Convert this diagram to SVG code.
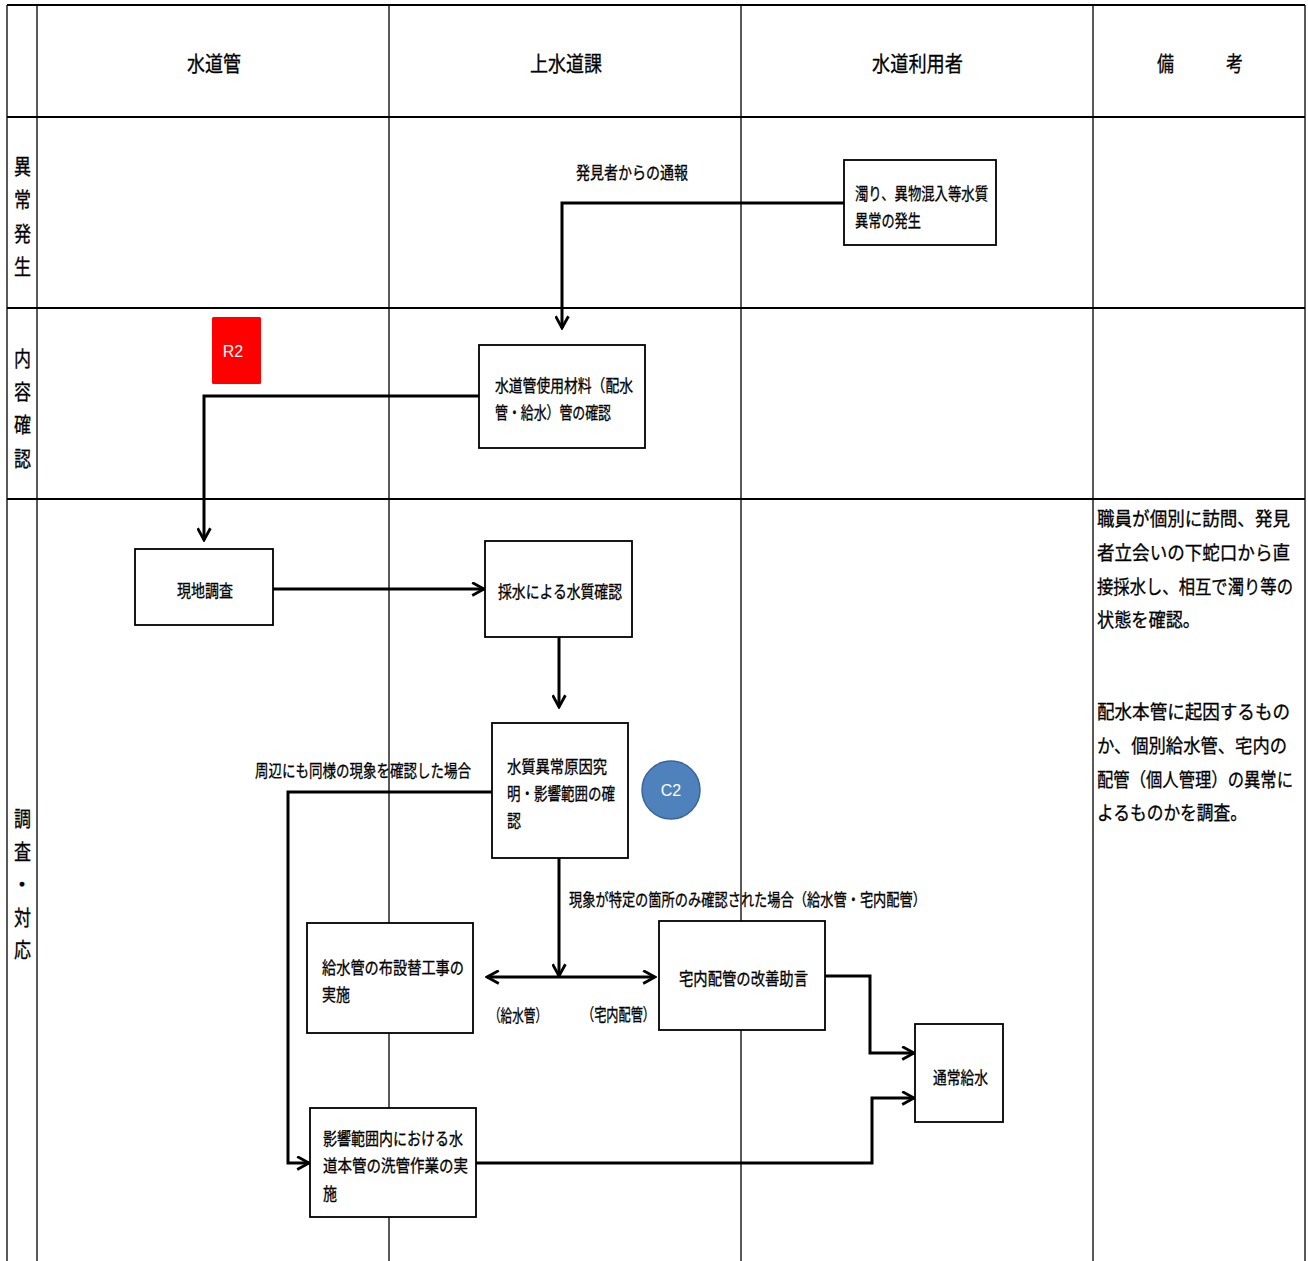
<svg xmlns="http://www.w3.org/2000/svg" width="1308" height="1261" viewBox="0 0 1308 1261">
<style>
  .grid-h { stroke: #000; stroke-width: 2; }
  .grid-v { stroke: #000; stroke-width: 1.3; }
  .box { fill: #fff; stroke: #000; stroke-width: 1.8; }
  .conn { fill: none; stroke: #000; stroke-width: 3; }
  text { font-family: "Noto Sans CJK JP", "Noto Sans CJK SC", sans-serif; fill: #000; stroke: #000; stroke-width: 0.3; dominant-baseline: central; }
  .hd { font-size: 21px; }
  .rl { font-size: 21px; }
  .nd { font-size: 17px; }
  .lb { font-size: 17px; }
  .rm { font-size: 19px; }
  .tag { font-family: "Liberation Sans", Arial, sans-serif; font-size: 16px; fill: #fff; stroke: none; text-anchor: middle; }
</style>
<defs>
  <marker id="arrow" markerUnits="userSpaceOnUse" viewBox="0 0 14 14" refX="12" refY="7" markerWidth="15" markerHeight="15" orient="auto-start-reverse">
    <path d="M1,1 L12,7 L1,13" fill="none" stroke="#000" stroke-width="2.6"/>
  </marker>
</defs>
<rect x="0" y="0" width="1308" height="1261" fill="#fff"/>

<g id="grid">
  <line class="grid-h" x1="7" y1="5" x2="1305" y2="5"/>
  <line class="grid-h" x1="7" y1="117" x2="1305" y2="117"/>
  <line class="grid-h" x1="7" y1="308" x2="1305" y2="308"/>
  <line class="grid-h" x1="7" y1="499" x2="1305" y2="499"/>
  <line class="grid-v" x1="7" y1="5" x2="7" y2="1261"/>
  <line class="grid-v" x1="37" y1="5" x2="37" y2="1261"/>
  <line class="grid-v" x1="389" y1="5" x2="389" y2="1261"/>
  <line class="grid-v" x1="741" y1="5" x2="741" y2="1261"/>
  <line class="grid-v" x1="1093" y1="5" x2="1093" y2="1261"/>
  <line class="grid-v" x1="1305" y1="5" x2="1305" y2="1261"/>
</g>

<g id="headers">
  <text class="hd" x="187" y="62" textLength="54" lengthAdjust="spacingAndGlyphs">水道管</text>
  <text class="hd" x="530" y="62" textLength="72" lengthAdjust="spacingAndGlyphs">上水道課</text>
  <text class="hd" x="872" y="62" textLength="91" lengthAdjust="spacingAndGlyphs">水道利用者</text>
  <text class="hd" x="1157" y="62" textLength="17" lengthAdjust="spacingAndGlyphs">備</text>
  <text class="hd" x="1226" y="62" textLength="17" lengthAdjust="spacingAndGlyphs">考</text>
</g>

<g id="row-labels">
  <text class="rl" x="14" y="165" textLength="17" lengthAdjust="spacingAndGlyphs">異</text>
  <text class="rl" x="14" y="198" textLength="17" lengthAdjust="spacingAndGlyphs">常</text>
  <text class="rl" x="14" y="232" textLength="17" lengthAdjust="spacingAndGlyphs">発</text>
  <text class="rl" x="14" y="265" textLength="17" lengthAdjust="spacingAndGlyphs">生</text>
  <text class="rl" x="14" y="357" textLength="17" lengthAdjust="spacingAndGlyphs">内</text>
  <text class="rl" x="14" y="390" textLength="17" lengthAdjust="spacingAndGlyphs">容</text>
  <text class="rl" x="14" y="423" textLength="17" lengthAdjust="spacingAndGlyphs">確</text>
  <text class="rl" x="14" y="457" textLength="17" lengthAdjust="spacingAndGlyphs">認</text>
  <text class="rl" x="14" y="817" textLength="17" lengthAdjust="spacingAndGlyphs">調</text>
  <text class="rl" x="14" y="850" textLength="17" lengthAdjust="spacingAndGlyphs">査</text>
  <text class="rl" x="22" y="883" text-anchor="middle">・</text>
  <text class="rl" x="14" y="916" textLength="17" lengthAdjust="spacingAndGlyphs">対</text>
  <text class="rl" x="14" y="948" textLength="17" lengthAdjust="spacingAndGlyphs">応</text>
</g>

<g id="connectors">
  <polyline class="conn" points="844,203 562,203 562,328" marker-end="url(#arrow)"/>
  <polyline class="conn" points="479,396 204,396 204,540" marker-end="url(#arrow)"/>
  <line class="conn" x1="273" y1="589" x2="484" y2="589" marker-end="url(#arrow)"/>
  <line class="conn" x1="559" y1="637" x2="559" y2="707" marker-end="url(#arrow)"/>
  <line class="conn" x1="559" y1="858" x2="559" y2="976" marker-end="url(#arrow)"/>
  <line class="conn" x1="487" y1="977" x2="655" y2="977" marker-start="url(#arrow)" marker-end="url(#arrow)"/>
  <polyline class="conn" points="492,792 288,792 288,1163 309,1163" marker-end="url(#arrow)"/>
  <polyline class="conn" points="825,976 870,976 870,1053 914,1053" marker-end="url(#arrow)"/>
  <polyline class="conn" points="476,1163 872,1163 872,1098 914,1098" marker-end="url(#arrow)"/>
  <text class="lb" x="576" y="171" textLength="112" lengthAdjust="spacingAndGlyphs">発見者からの通報</text>
  <text class="lb" x="255" y="769" textLength="216" lengthAdjust="spacingAndGlyphs">周辺にも同様の現象を確認した場合</text>
  <text class="lb" x="569" y="898" textLength="357" lengthAdjust="spacingAndGlyphs">現象が特定の箇所のみ確認された場合（給水管・宅内配管）</text>
  <text class="lb" x="489" y="1014" textLength="58" lengthAdjust="spacingAndGlyphs">（給水管）</text>
  <text class="lb" x="582" y="1013" textLength="73" lengthAdjust="spacingAndGlyphs">（宅内配管）</text>
</g>

<g id="node-abnormal">
  <rect class="box" x="844" y="160" width="152" height="85"/>
  <text class="nd" x="855" y="192" textLength="133" lengthAdjust="spacingAndGlyphs">濁り、異物混入等水質</text>
  <text class="nd" x="855" y="219" textLength="66" lengthAdjust="spacingAndGlyphs">異常の発生</text>
</g>

<g id="node-material">
  <rect class="box" x="479" y="345" width="166" height="103"/>
  <text class="nd" x="495" y="384" textLength="138" lengthAdjust="spacingAndGlyphs">水道管使用材料（配水</text>
  <text class="nd" x="495" y="411" textLength="116" lengthAdjust="spacingAndGlyphs">管・給水）管の確認</text>
</g>

<g id="tag-r2">
  <rect x="212" y="317" width="49" height="67" rx="1.5" fill="#ff0000"/>
  <text class="tag" x="233" y="351">R2</text>
</g>

<g id="node-survey">
  <rect class="box" x="135" y="549" width="138" height="76"/>
  <text class="nd" x="177" y="589" textLength="56" lengthAdjust="spacingAndGlyphs">現地調査</text>
</g>

<g id="node-sampling">
  <rect class="box" x="485" y="541" width="147" height="96"/>
  <text class="nd" x="498" y="590" textLength="124" lengthAdjust="spacingAndGlyphs">採水による水質確認</text>
</g>

<g id="node-cause">
  <rect class="box" x="492" y="723" width="136" height="135"/>
  <text class="nd" x="507" y="765" textLength="100" lengthAdjust="spacingAndGlyphs">水質異常原因究</text>
  <text class="nd" x="507" y="792" textLength="108" lengthAdjust="spacingAndGlyphs">明・影響範囲の確</text>
  <text class="nd" x="507" y="819" textLength="14" lengthAdjust="spacingAndGlyphs">認</text>
</g>

<g id="tag-c2">
  <circle cx="671" cy="790" r="29" fill="#4f81bd" stroke="#3a6597" stroke-width="1.5"/>
  <text class="tag" x="671" y="790">C2</text>
</g>

<g id="node-service-pipe">
  <rect class="box" x="307" y="923" width="166" height="110"/>
  <text class="nd" x="322" y="966" textLength="142" lengthAdjust="spacingAndGlyphs">給水管の布設替工事の</text>
  <text class="nd" x="322" y="993" textLength="28" lengthAdjust="spacingAndGlyphs">実施</text>
</g>

<g id="node-indoor">
  <rect class="box" x="659" y="921" width="166" height="109"/>
  <text class="nd" x="679" y="977" textLength="129" lengthAdjust="spacingAndGlyphs">宅内配管の改善助言</text>
</g>

<g id="node-normal">
  <rect class="box" x="915" y="1024" width="88" height="98"/>
  <text class="nd" x="933" y="1076" textLength="55" lengthAdjust="spacingAndGlyphs">通常給水</text>
</g>

<g id="node-flushing">
  <rect class="box" x="310" y="1108" width="166" height="109"/>
  <text class="nd" x="323" y="1137" textLength="140" lengthAdjust="spacingAndGlyphs">影響範囲内における水</text>
  <text class="nd" x="323" y="1164" textLength="145" lengthAdjust="spacingAndGlyphs">道本管の洗管作業の実</text>
  <text class="nd" x="323" y="1192" textLength="14" lengthAdjust="spacingAndGlyphs">施</text>
</g>

<g id="remarks">
  <text class="rm" x="1097" y="517" textLength="193" lengthAdjust="spacingAndGlyphs">職員が個別に訪問、発見</text>
  <text class="rm" x="1097" y="551" textLength="193" lengthAdjust="spacingAndGlyphs">者立会いの下蛇口から直</text>
  <text class="rm" x="1097" y="585" textLength="196" lengthAdjust="spacingAndGlyphs">接採水し、相互で濁り等の</text>
  <text class="rm" x="1097" y="618" textLength="103" lengthAdjust="spacingAndGlyphs">状態を確認。</text>
  <text class="rm" x="1097" y="710" textLength="193" lengthAdjust="spacingAndGlyphs">配水本管に起因するもの</text>
  <text class="rm" x="1097" y="744" textLength="190" lengthAdjust="spacingAndGlyphs">か、個別給水管、宅内の</text>
  <text class="rm" x="1097" y="778" textLength="196" lengthAdjust="spacingAndGlyphs">配管（個人管理）の異常に</text>
  <text class="rm" x="1097" y="811" textLength="150" lengthAdjust="spacingAndGlyphs">よるものかを調査。</text>
</g>
</svg>
